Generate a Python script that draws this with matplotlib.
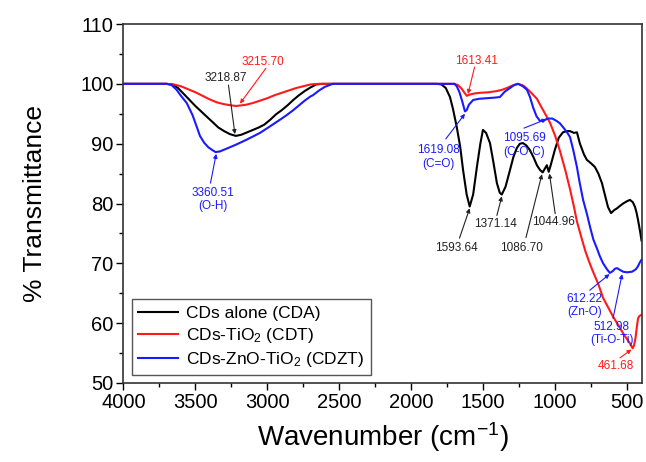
import matplotlib
matplotlib.use("Agg")
import matplotlib.pyplot as plt
from matplotlib.ticker import MultipleLocator

plt.rcParams['font.family'] = ['Liberation Sans', 'DejaVu Sans']
plt.rcParams['mathtext.default'] = 'regular'

# ---------------- data ----------------
cda_x = [4000, 3800, 3700, 3660, 3620, 3580, 3540, 3500, 3460, 3420, 3380, 3340, 3300, 3260, 3219,
         3180, 3140, 3100, 3060, 3020, 2980, 2940, 2900, 2860, 2820, 2780, 2740, 2700, 2660, 2620,
         2500, 2000, 1820, 1790, 1760, 1731, 1710, 1684, 1660, 1640, 1615, 1594, 1570, 1544, 1520,
         1502, 1480, 1453, 1430, 1405, 1385, 1371, 1345, 1314, 1290, 1266, 1245, 1224, 1200, 1175,
         1150, 1127, 1105, 1087, 1070, 1058, 1045, 1030, 1002, 975, 946, 920, 897, 870, 849, 828,
         800, 780, 750, 724, 700, 675, 650, 633, 612, 590, 570, 550, 528, 500, 480, 460, 445, 435,
         424, 410, 400]
cda_y = [100, 100, 100, 99.9, 99.3, 98.3, 97.3, 96.3, 95.4, 94.5, 93.6, 92.7, 92.1, 91.6, 91.3,
         91.5, 91.9, 92.3, 92.7, 93.2, 94.0, 94.9, 95.6, 96.4, 97.3, 98.1, 98.8, 99.4, 99.9, 100,
         100, 100, 100, 99.9, 99.3, 97.8, 95.8, 92.8, 89.5, 85.6, 81.5, 79.5, 81.5, 86.1, 90.0,
         92.3, 91.8, 90.1, 87.0, 83.4, 81.8, 81.5, 82.8, 85.6, 87.8, 89.3, 90.0, 90.1, 89.7, 88.9,
         87.7, 86.4, 85.6, 85.2, 85.9, 86.4, 85.3, 86.5, 89.0, 91.0, 91.9, 92.1, 92.1, 91.8, 91.9, 90.0,
         88.2, 87.3, 86.7, 86.1, 85.0, 83.4, 81.0, 79.4, 78.4, 78.9, 79.2, 79.6, 80.0, 80.4, 80.6, 80.2, 79.4, 78.5,
         77.2, 75.3, 73.8]

cdt_x = [4000, 3700, 3650, 3600, 3550, 3500, 3450, 3400, 3350, 3300, 3250, 3216, 3150, 3100, 3050,
         3000, 2950, 2900, 2850, 2800, 2750, 2700, 2650, 2000, 1700, 1676, 1650, 1630, 1613, 1595,
         1560, 1523, 1460, 1405, 1370, 1336, 1300, 1258, 1230, 1210, 1170, 1127, 1100, 1070, 1036,
         1000, 967, 930, 897, 870, 849, 820, 790, 760, 737, 700, 667, 640, 598, 560, 528, 500, 480,
         462, 452, 442, 432, 424, 415, 400]
cdt_y = [100, 100, 99.9, 99.6, 99.1, 98.6, 98.0, 97.4, 96.9, 96.6, 96.4, 96.3, 96.5, 96.8, 97.2,
         97.6, 98.1, 98.5, 98.9, 99.3, 99.6, 99.9, 100, 100, 100, 99.8, 99.2, 98.5, 98.0, 98.2,
         98.4, 98.5, 98.6, 98.8, 99.0, 99.3, 99.7, 100, 99.8, 99.5, 98.6, 97.5, 96.3, 95.0, 93.5,
         91.3, 88.8, 85.6, 82.4, 79.5, 77.0, 74.5, 72.0, 70.0, 68.6, 66.5, 64.2, 63.0, 61.1, 59.6, 58.3, 57.3, 56.6,
         55.8, 56.3, 57.5, 59.5, 60.8, 61.2, 61.4]

cdzt_x = [4000, 3700, 3665, 3630, 3600, 3560, 3520, 3490, 3468, 3440, 3410, 3380, 3360, 3330, 3300,
          3260, 3212, 3150, 3100, 3051, 3000, 2950, 2900, 2864, 2820, 2780, 2740, 2700, 2683, 2640,
          2600, 2545, 2000, 1700, 1684, 1665, 1645, 1627, 1615, 1600, 1570, 1530, 1475, 1420, 1384,
          1350, 1314, 1285, 1258, 1225, 1196, 1175, 1154, 1130, 1106, 1080, 1050, 1020, 990, 967,
          940, 915, 897, 875, 849, 830, 806, 780, 758, 735, 710, 690, 667, 640, 620, 600, 585, 570,
          550, 528, 500, 466, 440, 425, 411, 400]
cdzt_y = [100, 100, 99.8, 99.0, 98.0, 96.8, 94.8, 92.8, 91.3, 90.2, 89.4, 88.9, 88.6, 88.7, 89.0,
          89.4, 89.9, 90.6, 91.2, 91.8, 92.6, 93.4, 94.2, 94.8, 95.6, 96.4, 97.2, 97.9, 98.1, 98.9,
          99.5, 100, 100, 100, 99.6, 98.6, 97.0, 95.4, 95.6, 96.5, 97.3, 97.5, 97.6, 97.7, 97.8,
          98.7, 99.3, 99.8, 100, 99.6, 99.0, 97.8, 96.1, 94.6, 93.8, 93.9, 94.2, 94.2, 93.8, 93.4,
          92.6, 91.8, 91.1, 89.0, 86.1, 83.5, 80.6, 78.3, 76.1, 74.0, 72.5, 71.2, 70.0, 69.0, 68.4, 68.7, 69.1, 69.2,
          68.9, 68.6, 68.5, 68.6, 69.0, 69.5, 70.2, 70.6]

series_labels = ['CDs alone (CDA)', 'CDs-TiO$_2$ (CDT)', 'CDs-ZnO-TiO$_2$ (CDZT)']
series_colors = ['black', '#ff1a1a', '#1a1aff']

# annotations: text, text position, arrow start, arrow end, colour
annotations = [
    ('3215.70', (3030, 103.6), (3010, 102.6), (3190, 96.7), '#ff1a1a'),
    ('3218.87', (3290, 100.9), (3270, 99.8), (3225, 91.6), '#222222'),
    ('3360.51\n(O-H)', (3378, 80.7), (3395, 83.4), (3355, 88.3), '#1a1aff'),
    ('1613.41', (1550, 103.8), (1560, 102.8), (1606, 98.3), '#ff1a1a'),
    ('1619.08\n(C=O)', (1810, 87.8), (1760, 90.8), (1627, 95.0), '#1a1aff'),
    ('1095.69\n(C-O-C)', (1217, 89.8), (1217, 92.6), (1060, 94.1), '#1a1aff'),
    ('1593.64', (1683, 72.5), (1665, 74.2), (1594, 79.2), '#222222'),
    ('1371.14', (1412, 76.6), (1405, 78.0), (1371, 81.2), '#222222'),
    ('1086.70', (1231, 72.5), (1203, 74.3), (1092, 84.9), '#222222'),
    ('1044.96', (1015, 76.9), (1000, 78.3), (1040, 85.0), '#222222'),
    ('612.22\n(Zn-O)', (794, 63.0), (760, 65.5), (622, 68.2), '#1a1aff'),
    ('512.98\n(Ti-O-Ti)', (606, 58.3), (598, 60.8), (535, 68.2), '#1a1aff'),
    ('461.68', (578, 52.8), (550, 54.2), (470, 55.6), '#ff1a1a'),
]

# ---------------- figure ----------------
fig = plt.figure(figsize=(6.46, 4.62), dpi=100)
ax = fig.add_axes([0.191, 0.171, 0.803, 0.777])

for xs, ys, lab, col in zip([cda_x, cdt_x, cdzt_x], [cda_y, cdt_y, cdzt_y], series_labels, series_colors):
    ax.plot(xs, ys, color=col, lw=1.5, label=lab)

for txt, tpos, a0, a1, col in annotations:
    ax.text(tpos[0], tpos[1], txt, color=col, fontsize=8.5, ha='center', va='center', linespacing=1.15)
    ax.annotate('', xy=a1, xytext=a0,
                arrowprops=dict(arrowstyle='-|>', color=col, lw=0.8, mutation_scale=6,
                                shrinkA=0, shrinkB=0))

ax.set_xlim(4000, 396)
ax.set_ylim(50, 110)
ax.xaxis.set_major_locator(MultipleLocator(500))
ax.xaxis.set_minor_locator(MultipleLocator(250))
ax.yaxis.set_major_locator(MultipleLocator(10))
ax.yaxis.set_minor_locator(MultipleLocator(5))
ax.tick_params(which='both', direction='out', top=False, right=False, width=1.0, labelsize=14.5, pad=2)
ax.tick_params(which='major', length=5)
ax.tick_params(which='minor', length=3)
for sp in ax.spines.values():
    sp.set_linewidth(1.2)
    sp.set_color('#333333')

ax.set_xlabel('Wavenumber (cm$^{-1}$)', fontsize=20, labelpad=6)
ax.set_ylabel('% Transmittance', fontsize=19, labelpad=24)

leg = ax.legend(loc='lower left', bbox_to_anchor=(0.016, 0.022), borderaxespad=0,
                fontsize=12.5, handlelength=2.3, labelspacing=0.3, fancybox=False,
                edgecolor='#555555', framealpha=1, borderpad=0.35, handletextpad=0.5)
leg.get_frame().set_linewidth(1.0)

fig.savefig('out.png', dpi=100)
